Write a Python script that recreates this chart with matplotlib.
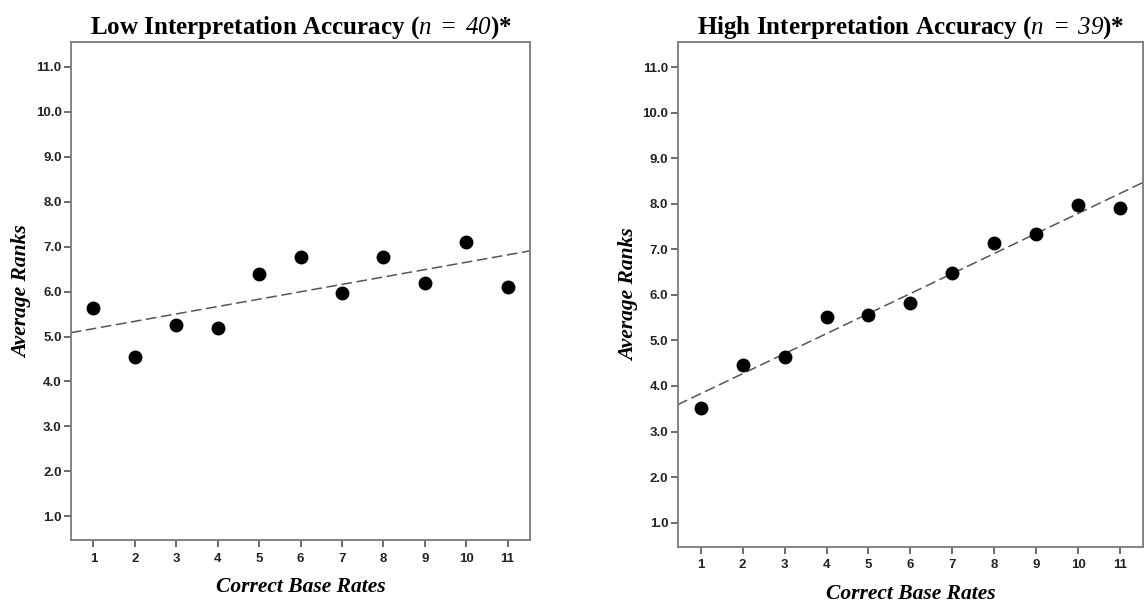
import numpy as np
import matplotlib
matplotlib.use('Agg')
import matplotlib.pyplot as plt

# math parts of the titles are only the italic "n = 40", so make rm italic
plt.rcParams['mathtext.fontset'] = 'custom'
plt.rcParams['mathtext.rm'] = 'Liberation Serif:italic'
plt.rcParams['mathtext.it'] = 'Liberation Serif:italic'
plt.rcParams['mathtext.bf'] = 'Liberation Serif:bold'

base_rates = [1, 2, 3, 4, 5, 6, 7, 8, 9, 10, 11]
low_ranks = [5.64, 4.55, 5.25, 5.20, 6.40, 6.78, 5.96, 6.78, 6.20, 7.10, 6.10]
high_ranks = [3.51, 4.45, 4.63, 5.52, 5.55, 5.83, 6.49, 7.13, 7.33, 7.98, 7.92]
y_ticks = [1, 2, 3, 4, 5, 6, 7, 8, 9, 10, 11]

titles = [r'Low Interpretation Accuracy ($\mathrm{n\;=\;40}$)*',
          r'High Interpretation Accuracy ($\mathrm{n\;=\;39}$)*']

fig = plt.figure(figsize=(11.46, 6.05), dpi=100)
ax1 = fig.add_axes([0.0617, 0.1074, 0.4011, 0.8227])
ax2 = fig.add_axes([0.5912, 0.0964, 0.4065, 0.8337])

spine_col = '#7a7a7a'

for ax, ranks, title in zip([ax1, ax2], [low_ranks, high_ranks], titles):
    x = np.array(base_rates)
    y = np.array(ranks)
    ax.scatter(x, y, s=100, color='black', zorder=3, linewidths=0)

    # linear fit line across the whole axis
    slope, icpt = np.polyfit(x, y, 1)
    xs = np.array([0.45, 11.55])
    ax.plot(xs, icpt + slope * xs, color='#555555', linestyle=(0, (7, 3)),
            linewidth=1.1, zorder=2)

    ax.set_xlim(0.45, 11.55)
    ax.set_ylim(0.47, 11.55)
    ax.set_xticks(base_rates)
    ax.set_yticks(y_ticks)
    ax.set_yticklabels(['%.1f' % v for v in y_ticks])

    for sp in ax.spines.values():
        sp.set_color(spine_col)
        sp.set_linewidth(1.3)

    ax.tick_params(axis='both', direction='out', length=5, width=1.1,
                   color='#444444', labelsize=9.5, pad=1.5)
    for lab in ax.get_xticklabels() + ax.get_yticklabels():
        lab.set_fontfamily('Liberation Sans')
        lab.set_fontweight('bold')
        lab.set_color('#222222')
    ax.tick_params(axis='x', pad=4)

    ax.set_title(title, fontfamily='Liberation Serif', fontweight='bold',
                 fontsize=18, pad=6)
    ax.set_xlabel('Correct Base Rates', fontfamily='Liberation Serif',
                  fontweight='bold', fontstyle='italic', fontsize=15.5, labelpad=9)
    ax.set_ylabel('Average Ranks', fontfamily='Liberation Serif',
                  fontweight='bold', fontstyle='italic', fontsize=15.5, labelpad=2.5)

fig.savefig('out.png', dpi=100)
